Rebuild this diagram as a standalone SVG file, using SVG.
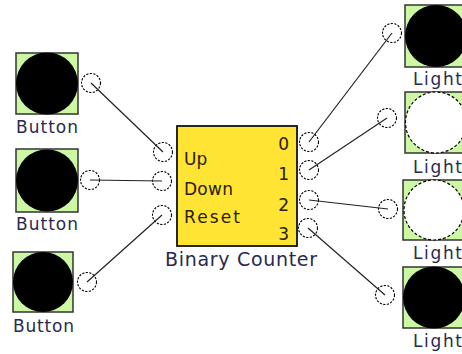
<svg xmlns="http://www.w3.org/2000/svg" width="462" height="354" viewBox="0 0 462 354">
<style>
.sq{fill:#ccf7a3;stroke:#333;stroke-width:1.5}
.on{fill:#000}
.off{fill:#fff;stroke:#000;stroke-width:1.2;stroke-dasharray:3 2}
.port{fill:#fff;stroke:#000;stroke-width:1.1;stroke-dasharray:2.2 1.4}
.lbl{font-family:"DejaVu Sans",Verdana,sans-serif;font-size:17px;fill:#2a2a50}
.in{font-family:"DejaVu Sans",Verdana,sans-serif;font-size:17px;fill:#2a2000}
.wire{stroke:#222;stroke-width:1.2;fill:none}
</style>
<rect width="462" height="354" fill="#fff"/>
<g id="button1">
<rect class="sq" x="16" y="53" width="62" height="61"/>
<circle class="on" cx="47" cy="83.5" r="31"/>
<circle class="port" cx="91" cy="83" r="9.5"/>
<text class="lbl" x="16" y="133" textLength="62" lengthAdjust="spacing">Button</text>
</g>
<g id="button2">
<rect class="sq" x="16" y="149" width="62" height="63"/>
<circle class="on" cx="47" cy="180.5" r="31"/>
<circle class="port" cx="90" cy="180" r="9.5"/>
<text class="lbl" x="16" y="230" textLength="62" lengthAdjust="spacing">Button</text>
</g>
<g id="button3">
<rect class="sq" x="13" y="252" width="60" height="60"/>
<circle class="on" cx="43" cy="282" r="30"/>
<circle class="port" cx="87" cy="282" r="9.5"/>
<text class="lbl" x="13" y="332" textLength="61" lengthAdjust="spacing">Button</text>
</g>
<g id="counter">
<rect x="177" y="126" width="120" height="120" fill="#ffe433" stroke="#111" stroke-width="1.8"/>
<circle class="port" cx="163" cy="152" r="9.5"/>
<circle class="port" cx="162" cy="181" r="9.5"/>
<circle class="port" cx="162" cy="215" r="9.5"/>
<circle class="port" cx="309" cy="142" r="9.5"/>
<circle class="port" cx="309" cy="170" r="9.5"/>
<circle class="port" cx="309" cy="200" r="9.5"/>
<circle class="port" cx="308" cy="228" r="9.5"/>
<text class="in" x="184" y="165">Up</text>
<text class="in" x="184" y="195" textLength="49" lengthAdjust="spacing">Down</text>
<text class="in" x="184" y="223" textLength="56" lengthAdjust="spacing">Reset</text>
<text class="in" x="289" y="150" text-anchor="end">0</text>
<text class="in" x="289" y="180" text-anchor="end">1</text>
<text class="in" x="289" y="211" text-anchor="end">2</text>
<text class="in" x="289" y="240" text-anchor="end">3</text>
<text class="lbl" x="165" y="266" textLength="152" lengthAdjust="spacing" style="font-size:19px">Binary Counter</text>
</g>
<g id="light1">
<rect class="sq" x="405" y="5" width="62" height="62"/>
<circle class="on" cx="436" cy="36" r="31"/>
<circle class="port" cx="392" cy="33" r="9.5"/>
<text class="lbl" x="413" y="85" textLength="49" lengthAdjust="spacing">Light</text>
</g>
<g id="light2">
<rect class="sq" x="405" y="92" width="62" height="61"/>
<circle class="off" cx="436" cy="122.5" r="30.5"/>
<circle class="port" cx="387" cy="118" r="9.5"/>
<text class="lbl" x="413" y="173" textLength="49" lengthAdjust="spacing">Light</text>
</g>
<g id="light3">
<rect class="sq" x="403" y="180" width="62" height="60"/>
<circle class="off" cx="434" cy="210" r="30"/>
<circle class="port" cx="388" cy="209" r="9.5"/>
<text class="lbl" x="413" y="259" textLength="49" lengthAdjust="spacing">Light</text>
</g>
<g id="light4">
<rect class="sq" x="403" y="267" width="62" height="61"/>
<circle class="on" cx="434" cy="297.5" r="31"/>
<circle class="port" cx="385" cy="295" r="9.5"/>
<text class="lbl" x="413" y="347" textLength="49" lengthAdjust="spacing">Light</text>
</g>
<g id="connectors">
<line class="wire" x1="91" y1="83" x2="163" y2="152"/>
<line class="wire" x1="90" y1="180" x2="162" y2="181"/>
<line class="wire" x1="87" y1="282" x2="162" y2="215"/>
<line class="wire" x1="309" y1="142" x2="392" y2="33"/>
<line class="wire" x1="309" y1="170" x2="387" y2="118"/>
<line class="wire" x1="309" y1="200" x2="388" y2="209"/>
<line class="wire" x1="308" y1="228" x2="385" y2="295"/>
</g>
</svg>
